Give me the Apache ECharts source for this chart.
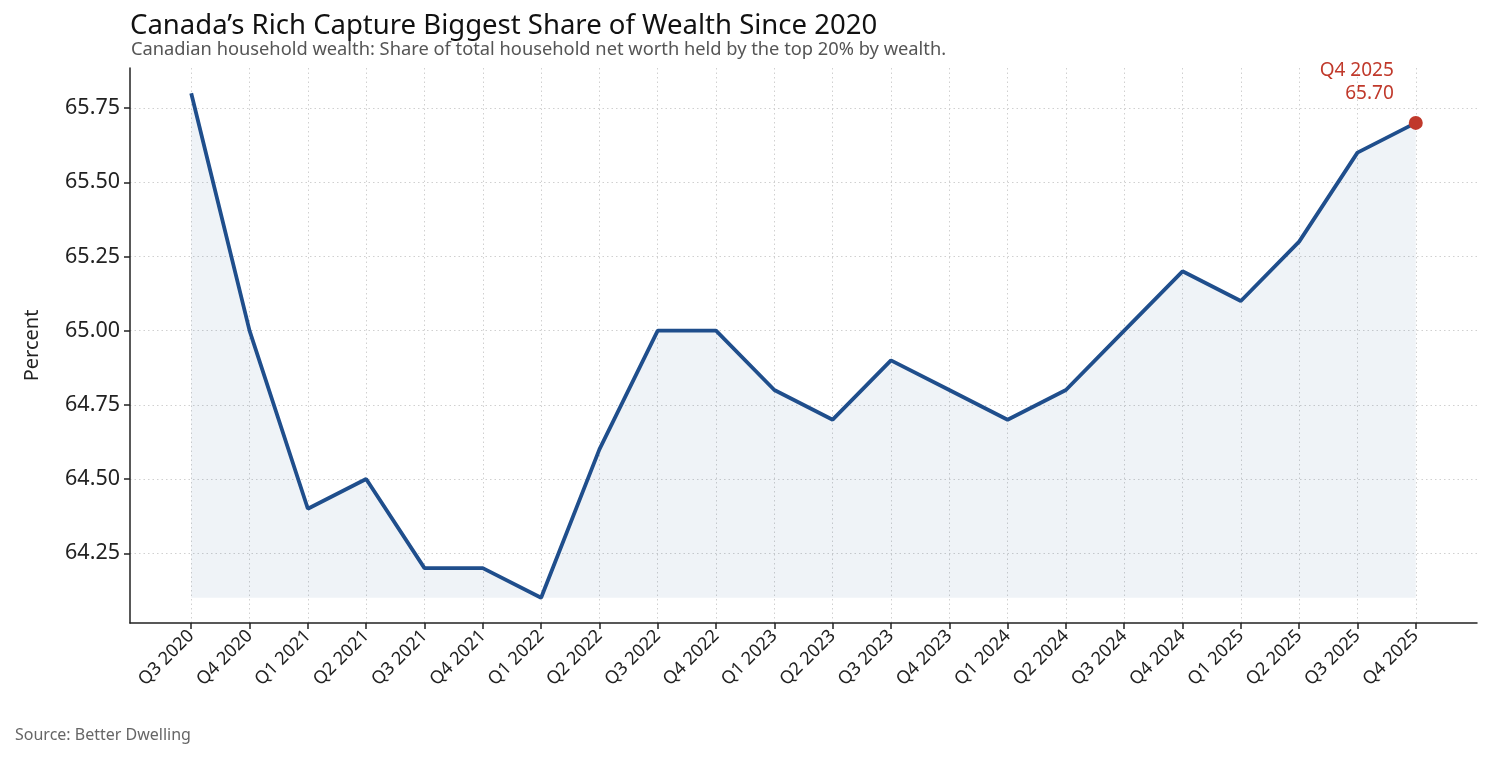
<!DOCTYPE html>
<html>
<head>
<meta charset="utf-8">
<script src="https://cdn.jsdelivr.net/npm/echarts@6/dist/echarts.min.js"></script>
<style>
  html, body { margin: 0; padding: 0; background: #fff; }
  #chart { width: 1492px; height: 759px; }
</style>
</head>
<body>
<div id="chart"></div>
<script>
// quarters and top-20% share of net worth (percent)
const quarters = ['Q3 2020', 'Q4 2020', 'Q1 2021', 'Q2 2021', 'Q3 2021', 'Q4 2021',
  'Q1 2022', 'Q2 2022', 'Q3 2022', 'Q4 2022', 'Q1 2023', 'Q2 2023', 'Q3 2023',
  'Q4 2023', 'Q1 2024', 'Q2 2024', 'Q3 2024', 'Q4 2024', 'Q1 2025', 'Q2 2025',
  'Q3 2025', 'Q4 2025']
const share = [65.8, 65.0, 64.4, 64.5, 64.2, 64.2, 64.1, 64.6, 65.0, 65.0, 64.8, 64.7,
  64.9, 64.8, 64.7, 64.8, 65.0, 65.2, 65.1, 65.3, 65.6, 65.7]
const yTicks = [64.25, 64.5, 64.75, 65.0, 65.25, 65.5, 65.75]

const FONT = '"Noto Sans", "DejaVu Sans", sans-serif'
const xIdx = quarters.map((q, i) => i)
const lastI = quarters.length - 1
const gridLine = { show: true, lineStyle: { color: '#d0d0d0', type: [1.5, 3], width: 1 } }

const chart = echarts.init(document.getElementById('chart'))
chart.setOption({
  animation: false,
  textStyle: { fontFamily: FONT },
  title: [
    {
      text: 'Canada’s Rich Capture Biggest Share of Wealth Since 2020',
      left: 130, top: 12, padding: 0,
      textStyle: { fontFamily: FONT, fontSize: 27.5, fontWeight: 'normal', color: '#111' }
    },
    {
      text: 'Canadian household wealth: Share of total household net worth held by the top 20% by wealth.',
      left: 131, top: 41, padding: 0,
      textStyle: { fontFamily: FONT, fontSize: 18.3, fontWeight: 'normal', color: '#555' }
    },
    {
      text: 'Source: Better Dwelling',
      left: 15, top: 727, padding: 0,
      textStyle: { fontFamily: FONT, fontSize: 16, fontWeight: 'normal', color: '#666' }
    }
  ],
  grid: { left: 130, right: 15, top: 68, bottom: 136 },
  xAxis: {
    type: 'value',
    min: -1.05,
    max: lastI + 1.05,
    axisLine: { show: true, onZero: false, lineStyle: { color: '#222', width: 1.5 } },
    axisTick: { show: true, length: 6, lineStyle: { color: '#222', width: 1.5 }, customValues: xIdx },
    axisLabel: {
      customValues: xIdx,
      rotate: 45,
      fontSize: 18,
      color: '#222',
      margin: 10,
      formatter: v => quarters[Math.round(v)]
    },
    splitLine: gridLine
  },
  yAxis: {
    type: 'value',
    min: 64.015,
    max: 65.885,
    name: 'Percent',
    nameLocation: 'middle',
    nameGap: 88,
    nameTextStyle: { fontSize: 20, color: '#222', fontFamily: FONT },
    axisLine: { show: true, onZero: false, lineStyle: { color: '#222', width: 1.5 } },
    axisTick: { show: true, length: 6, lineStyle: { color: '#222', width: 1.5 }, customValues: yTicks },
    axisLabel: {
      customValues: yTicks,
      fontSize: 21.5,
      color: '#222',
      margin: 10,
      formatter: v => v.toFixed(2)
    },
    splitLine: gridLine
  },
  series: [
    {
      type: 'line',
      data: share.map((v, i) => [i, v]),
      showSymbol: false,
      lineStyle: { color: '#1f4e8c', width: 3.8 },
      areaStyle: { color: 'rgba(31,78,140,0.1)', origin: Math.min(...share) },
      z: 3
    },
    {
      type: 'scatter',
      data: [[lastI, share[lastI]]],
      symbolSize: 14,
      itemStyle: { color: '#c0392b', opacity: 1 },
      label: {
        show: true,
        position: 'left',
        distance: 15,
        offset: [0, -41],
        align: 'right',
        fontSize: 19,
        lineHeight: 23,
        color: '#c0392b',
        fontFamily: FONT,
        formatter: p => quarters[p.data[0]] + '\n' + p.data[1].toFixed(2)
      },
      z: 4
    }
  ]
})
</script>
</body>
</html>
